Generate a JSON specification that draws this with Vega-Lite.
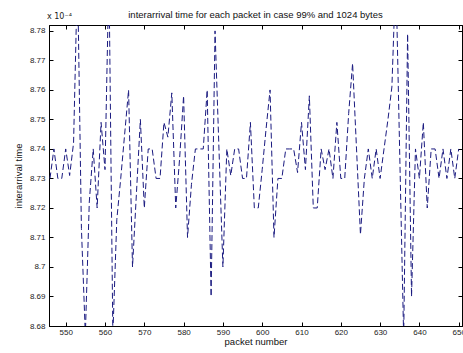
{
  "$schema": "https://vega.github.io/schema/vega-lite/v6.json",
  "width": 413,
  "height": 301,
  "autosize": "none",
  "padding": {"left": 49, "top": 25, "right": 1, "bottom": 27},
  "background": "white",
  "title": {"text": "interarrival time for each packet in case 99% and 1024 bytes", "fontSize": 9.5, "font": "Liberation Sans", "fontWeight": "normal", "color": "#111", "offset": 2, "dy": 8, "anchor": "middle"},
  "config": {
    "view": {"stroke": "#000", "strokeWidth": 1},
    "axis": {"grid": false, "domainColor": "#000", "tickColor": "#000", "labelFont": "Liberation Sans", "labelFontSize": 8, "labelColor": "#222", "titleFont": "Liberation Sans", "titleFontSize": 9.5, "titleFontWeight": "normal", "titleColor": "#111"}
  },
  "data": {"values": [
    {"packet": 546, "time": 8.73}, {"packet": 547, "time": 8.74}, {"packet": 548, "time": 8.73}, {"packet": 549, "time": 8.73},
    {"packet": 550, "time": 8.74}, {"packet": 551, "time": 8.731}, {"packet": 552, "time": 8.742}, {"packet": 553, "time": 8.80},
    {"packet": 554, "time": 8.713}, {"packet": 555, "time": 8.677}, {"packet": 556, "time": 8.722}, {"packet": 557, "time": 8.74},
    {"packet": 558, "time": 8.72}, {"packet": 559, "time": 8.749}, {"packet": 560, "time": 8.733}, {"packet": 561, "time": 8.80},
    {"packet": 562, "time": 8.677}, {"packet": 563, "time": 8.716}, {"packet": 564, "time": 8.73}, {"packet": 565, "time": 8.745},
    {"packet": 566, "time": 8.76}, {"packet": 567, "time": 8.70}, {"packet": 568, "time": 8.725}, {"packet": 569, "time": 8.75},
    {"packet": 570, "time": 8.72}, {"packet": 571, "time": 8.74}, {"packet": 572, "time": 8.74}, {"packet": 573, "time": 8.73},
    {"packet": 574, "time": 8.73}, {"packet": 575, "time": 8.749}, {"packet": 576, "time": 8.744}, {"packet": 577, "time": 8.759},
    {"packet": 578, "time": 8.72}, {"packet": 579, "time": 8.737}, {"packet": 580, "time": 8.758}, {"packet": 581, "time": 8.71},
    {"packet": 582, "time": 8.728}, {"packet": 583, "time": 8.74}, {"packet": 584, "time": 8.74}, {"packet": 585, "time": 8.74},
    {"packet": 586, "time": 8.76}, {"packet": 587, "time": 8.69}, {"packet": 588, "time": 8.78}, {"packet": 589, "time": 8.74},
    {"packet": 590, "time": 8.70}, {"packet": 591, "time": 8.74}, {"packet": 592, "time": 8.731}, {"packet": 593, "time": 8.74},
    {"packet": 594, "time": 8.74}, {"packet": 595, "time": 8.73}, {"packet": 596, "time": 8.73}, {"packet": 597, "time": 8.749},
    {"packet": 598, "time": 8.72}, {"packet": 599, "time": 8.72}, {"packet": 600, "time": 8.733}, {"packet": 601, "time": 8.747},
    {"packet": 602, "time": 8.76}, {"packet": 603, "time": 8.71}, {"packet": 604, "time": 8.73}, {"packet": 605, "time": 8.73},
    {"packet": 606, "time": 8.74}, {"packet": 607, "time": 8.74}, {"packet": 608, "time": 8.74}, {"packet": 609, "time": 8.732},
    {"packet": 610, "time": 8.749}, {"packet": 611, "time": 8.733}, {"packet": 612, "time": 8.758}, {"packet": 613, "time": 8.72},
    {"packet": 614, "time": 8.72}, {"packet": 615, "time": 8.74}, {"packet": 616, "time": 8.733}, {"packet": 617, "time": 8.74},
    {"packet": 618, "time": 8.73}, {"packet": 619, "time": 8.749}, {"packet": 620, "time": 8.73}, {"packet": 621, "time": 8.73},
    {"packet": 622, "time": 8.752}, {"packet": 623, "time": 8.769}, {"packet": 624, "time": 8.74}, {"packet": 625, "time": 8.711},
    {"packet": 626, "time": 8.73}, {"packet": 627, "time": 8.74}, {"packet": 628, "time": 8.73}, {"packet": 629, "time": 8.74},
    {"packet": 630, "time": 8.73}, {"packet": 631, "time": 8.74}, {"packet": 632, "time": 8.75}, {"packet": 633, "time": 8.761},
    {"packet": 634, "time": 8.80}, {"packet": 635, "time": 8.738}, {"packet": 636, "time": 8.676}, {"packet": 637, "time": 8.779},
    {"packet": 638, "time": 8.69}, {"packet": 639, "time": 8.74}, {"packet": 640, "time": 8.73}, {"packet": 641, "time": 8.749},
    {"packet": 642, "time": 8.72}, {"packet": 643, "time": 8.74}, {"packet": 644, "time": 8.74}, {"packet": 645, "time": 8.73},
    {"packet": 646, "time": 8.74}, {"packet": 647, "time": 8.73}, {"packet": 648, "time": 8.74}, {"packet": 649, "time": 8.73},
    {"packet": 650, "time": 8.74}
  ]},
  "layer": [
    {
      "mark": {"type": "line", "color": "#1a1a80", "strokeWidth": 1, "strokeDash": [6, 3], "clip": true},
      "encoding": {
        "x": {"field": "packet", "type": "quantitative", "scale": {"domain": [545.75, 650.84], "nice": false, "zero": false},
              "axis": {"orient": "bottom", "values": [550, 560, 570, 580, 590, 600, 610, 620, 630, 640, 650], "title": "packet number", "tickSize": -4, "labelPadding": 6, "titlePadding": 0, "labelFlush": false}},
        "y": {"field": "time", "type": "quantitative", "scale": {"domain": [8.68, 8.782], "nice": false, "zero": false},
              "axis": {"orient": "left", "values": [8.68, 8.69, 8.7, 8.71, 8.72, 8.73, 8.74, 8.75, 8.76, 8.77, 8.78], "format": ".3~r", "title": "interarrival time", "tickSize": -4, "labelPadding": 8, "titlePadding": 6}}
      }
    },
    {
      "mark": {"type": "line", "opacity": 0, "clip": true},
      "encoding": {
        "x": {"field": "packet", "type": "quantitative", "axis": {"orient": "top", "values": [550, 560, 570, 580, 590, 600, 610, 620, 630, 640, 650], "labels": false, "title": null, "tickSize": -4}},
        "y": {"field": "time", "type": "quantitative", "axis": {"orient": "right", "values": [8.68, 8.69, 8.7, 8.71, 8.72, 8.73, 8.74, 8.75, 8.76, 8.77, 8.78], "labels": false, "title": null, "tickSize": -4}}
      }
    },
    {
      "data": {"values": [{"label": "x 10⁻⁴"}]},
      "mark": {"type": "text", "align": "left", "baseline": "bottom", "dy": -4, "dx": -2, "fontSize": 8, "font": "DejaVu Sans", "color": "#222"},
      "encoding": {
        "text": {"field": "label"},
        "x": {"datum": 545.75, "type": "quantitative", "axis": null},
        "y": {"datum": 8.782, "type": "quantitative", "axis": null}
      }
    }
  ],
  "resolve": {"axis": {"x": "independent", "y": "independent"}}
}
